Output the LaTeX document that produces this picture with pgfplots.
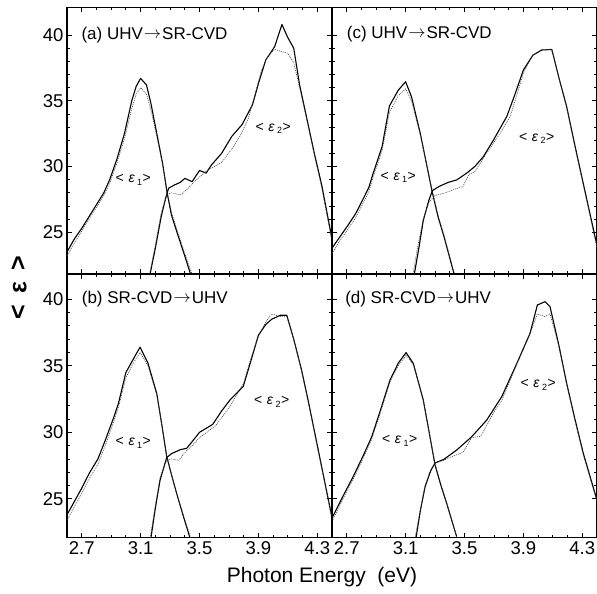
\documentclass[border=0pt]{standalone}
\usepackage{fontspec}
\setmainfont{Liberation Sans}
\usepackage{pgfplots}
\pgfplotsset{compat=1.18}
\usepgfplotslibrary{groupplots}
\usetikzlibrary{calc}
\newcommand{\epslab}[1]{<\,\,\textit{ε}\,\raisebox{-0.35ex}{\fontsize{9}{9}\selectfont #1}\kern0.5pt>}
\newcommand{\arr}{\kern1pt\raisebox{0.1ex}{$\rightarrow$}\kern1pt}
\begin{document}
\begin{tikzpicture}
\pgfplotsset{
  sol/.style={black, line width=1.1pt, line join=round},
  dot/.style={black!75, line width=0.6pt, dash pattern=on 1pt off 1pt},
  toprow/.style={height=266.5pt, ymin=21.83, ymax=42.09},
  botrow/.style={height=263.7pt, ymin=22.08, ymax=41.9},
}
\begin{groupplot}[
  group style={group size=2 by 2, horizontal sep=0pt, vertical sep=0pt,
    xticklabels at=edge bottom, yticklabels at=edge left},
  scale only axis, width=265pt,
  xmin=2.6, xmax=4.4,
  xtick={2.7,3.1,3.5,3.9,4.3}, minor x tick num=3,
  ytick={25,30,35,40}, minor y tick num=4,
  tick align=inside, tick pos=both,
  major tick length=5pt, minor tick length=3pt,
  axis line style={line width=1.1pt},
  every tick/.style={black, line width=0.8pt},
  tick label style={font=\fontsize{18.5}{18.5}\selectfont},
  /pgf/number format/assume math mode=true,
  xticklabel style={/pgf/number format/fixed, /pgf/number format/precision=1, /pgf/number format/fixed zerofill},
]
%%%%%%%% (a)
\nextgroupplot[toprow]
\addplot[sol] coordinates {(2.60,23.5)(2.65,24.5)(2.70,25.3)(2.75,26.2)(2.80,27.1)(2.85,28.0)(2.89,29.0)(2.94,30.6)(2.99,32.5)(3.04,35.0)(3.07,36.1)(3.10,36.7)(3.14,36.2)(3.17,34.8)(3.21,32.5)(3.25,30.2)(3.28,28.0)(3.31,26.3)(3.35,24.9)(3.40,23.2)(3.44,21.8)};
\addplot[dot] coordinates {(2.60,23.2)(2.65,24.2)(2.70,25.1)(2.75,26.0)(2.80,26.9)(2.85,27.8)(2.89,28.7)(2.94,30.3)(2.99,32.1)(3.04,34.4)(3.07,35.5)(3.10,36.0)(3.14,35.5)(3.17,34.3)(3.21,32.3)(3.25,30.1)(3.28,28.1)(3.31,26.5)(3.35,25.1)(3.40,23.4)(3.45,21.8)};
\addplot[sol] coordinates {(3.164,21.8)(3.20,23.8)(3.24,26.2)(3.27,27.6)(3.29,28.35)(3.33,28.6)(3.37,28.8)(3.40,29.1)(3.45,28.85)(3.50,29.7)(3.545,29.5)(3.58,30.1)(3.65,31.0)(3.72,32.3)(3.79,33.2)(3.86,34.7)(3.90,36.3)(3.95,38.1)(4.01,39.1)(4.06,40.8)(4.10,39.8)(4.14,39.0)(4.18,36.2)(4.23,33.6)(4.28,31.0)(4.33,28.6)(4.40,24.5)};
\addplot[dot] coordinates {(3.16,21.8)(3.20,24.0)(3.24,26.5)(3.28,27.9)(3.31,28.0)(3.37,27.85)(3.42,28.3)(3.46,28.8)(3.55,29.7)(3.65,30.3)(3.73,31.5)(3.78,32.4)(3.83,33.6)(3.88,35.6)(3.92,37.3)(3.97,38.5)(4.01,38.9)(4.10,38.6)(4.14,37.9)(4.18,36.0)(4.23,33.5)(4.28,30.9)(4.33,28.4)(4.40,24.3)};
\node[anchor=west, font=\fontsize{17}{17}\selectfont] at (axis cs:2.675,40.0) {(a) UHV\arr SR-CVD};
\node[font=\fontsize{14}{14}\selectfont] at (axis cs:3.05,29.0) {\epslab{1}};
\node[font=\fontsize{14}{14}\selectfont] at (axis cs:4.0,32.9) {\epslab{2}};
%%%%%%%% (c)
\nextgroupplot[toprow]
\addplot[sol] coordinates {(2.60,23.8)(2.65,24.6)(2.70,25.4)(2.76,26.4)(2.81,27.5)(2.85,28.4)(2.88,29.5)(2.94,31.5)(2.99,34.6)(3.05,35.8)(3.10,36.45)(3.14,35.3)(3.20,32.5)(3.24,30.3)(3.28,28.1)(3.32,26.2)(3.36,24.7)(3.43,21.8)};
\addplot[dot] coordinates {(2.60,23.4)(2.65,24.3)(2.70,25.1)(2.76,26.1)(2.81,27.2)(2.85,28.1)(2.88,29.2)(2.94,31.2)(2.99,34.1)(3.05,35.4)(3.10,35.9)(3.14,35.0)(3.20,32.4)(3.24,30.3)(3.28,28.2)(3.32,26.3)(3.36,24.8)(3.43,21.9)};
\addplot[sol] coordinates {(3.159,21.8)(3.19,23.8)(3.22,25.9)(3.257,27.4)(3.282,28.17)(3.33,28.5)(3.39,28.8)(3.447,28.98)(3.515,29.5)(3.57,30.0)(3.628,30.75)(3.696,32.0)(3.787,33.8)(3.84,35.4)(3.90,37.34)(3.965,38.47)(4.025,38.86)(4.093,38.9)(4.14,36.8)(4.194,34.55)(4.25,31.6)(4.307,28.7)(4.40,24.0)};
\addplot[dot] coordinates {(3.15,21.8)(3.18,23.8)(3.22,26.0)(3.26,27.3)(3.30,27.8)(3.37,28.0)(3.44,28.3)(3.49,28.5)(3.53,29.4)(3.57,29.6)(3.65,31.0)(3.74,32.5)(3.81,33.8)(3.86,35.6)(3.90,37.1)(3.965,38.5)(4.025,38.9)(4.093,38.9)(4.14,36.8)(4.194,34.5)(4.25,31.5)(4.307,28.6)(4.40,23.8)};
\node[anchor=west, font=\fontsize{17}{17}\selectfont] at (axis cs:2.677,40.1) {(c) UHV\arr SR-CVD};
\node[font=\fontsize{14}{14}\selectfont] at (axis cs:3.05,29.16) {\epslab{1}};
\node[font=\fontsize{14}{14}\selectfont] at (axis cs:3.99,32.15) {\epslab{2}};
%%%%%%%% (b)
\nextgroupplot[botrow]
\addplot[sol] coordinates {(2.60,23.8)(2.65,24.8)(2.70,25.8)(2.75,26.9)(2.81,28.0)(2.86,29.4)(2.92,31.2)(2.95,32.2)(3.00,34.5)(3.05,35.5)(3.096,36.4)(3.15,35.2)(3.21,32.9)(3.245,30.5)(3.277,28.2)(3.31,26.8)(3.345,25.4)(3.39,23.7)(3.436,22.05)};
\addplot[dot] coordinates {(2.60,23.4)(2.65,24.4)(2.70,25.4)(2.75,26.5)(2.81,27.6)(2.86,29.0)(2.92,30.9)(2.95,31.9)(3.00,34.1)(3.05,35.2)(3.096,36.0)(3.15,35.0)(3.21,32.8)(3.245,30.5)(3.277,28.2)(3.31,26.8)(3.345,25.4)(3.39,23.8)(3.44,22.05)};
\addplot[sol] coordinates {(3.17,22.05)(3.20,24.3)(3.232,26.4)(3.277,28.1)(3.31,28.4)(3.37,28.7)(3.413,28.8)(3.45,29.3)(3.50,30.0)(3.59,30.6)(3.65,31.6)(3.707,32.43)(3.797,33.45)(3.85,35.4)(3.90,37.3)(3.95,38.1)(3.99,38.5)(4.05,38.8)(4.093,38.8)(4.14,37.0)(4.193,34.7)(4.24,32.3)(4.284,29.9)(4.33,27.4)(4.387,24.3)(4.40,23.6)};
\addplot[dot] coordinates {(3.165,22.05)(3.20,24.5)(3.232,26.6)(3.277,27.9)(3.31,28.0)(3.36,27.9)(3.41,28.6)(3.45,29.0)(3.50,29.6)(3.61,30.5)(3.71,32.0)(3.80,33.7)(3.85,35.6)(3.90,37.2)(3.95,38.3)(3.99,38.9)(4.05,38.7)(4.093,38.7)(4.14,37.0)(4.193,34.6)(4.24,32.2)(4.284,29.8)(4.33,27.3)(4.40,23.5)};
\node[anchor=west, font=\fontsize{17}{17}\selectfont] at (axis cs:2.677,40.0) {(b) SR-CVD\arr UHV};
\node[font=\fontsize{14}{14}\selectfont] at (axis cs:3.05,29.2) {\epslab{1}};
\node[font=\fontsize{14}{14}\selectfont] at (axis cs:3.99,32.3) {\epslab{2}};
%%%%%%%% (d)
\nextgroupplot[botrow]
\addplot[sol] coordinates {(2.605,23.66)(2.67,25.1)(2.745,26.7)(2.81,28.2)(2.87,29.67)(2.93,31.7)(2.994,33.93)(3.05,35.2)(3.103,35.99)(3.152,35.19)(3.22,32.43)(3.26,30.0)(3.30,27.54)(3.34,26.0)(3.379,24.66)(3.447,22.15)};
\addplot[dot] coordinates {(2.605,23.4)(2.67,24.9)(2.745,26.5)(2.81,28.0)(2.87,29.5)(2.93,31.5)(2.994,33.8)(3.05,35.0)(3.103,35.8)(3.152,35.1)(3.22,32.4)(3.26,30.0)(3.30,27.6)(3.34,26.1)(3.379,24.7)(3.447,22.15)};
\addplot[sol] coordinates {(3.171,22.1)(3.20,24.1)(3.232,25.9)(3.27,27.1)(3.30,27.7)(3.36,27.97)(3.447,28.67)(3.549,29.67)(3.651,30.92)(3.753,32.68)(3.866,35.44)(3.945,37.44)(3.995,39.57)(4.047,39.82)(4.081,39.44)(4.14,36.6)(4.194,33.68)(4.25,31.0)(4.307,28.42)(4.40,24.9)};
\addplot[dot] coordinates {(3.165,22.1)(3.20,24.2)(3.232,26.0)(3.27,27.2)(3.30,27.7)(3.36,27.9)(3.42,28.2)(3.49,28.5)(3.549,29.6)(3.61,29.7)(3.70,31.5)(3.753,32.4)(3.866,35.4)(3.945,37.4)(3.995,38.9)(4.047,38.7)(4.081,38.9)(4.14,36.5)(4.194,33.6)(4.25,30.9)(4.307,28.3)(4.40,24.8)};
\node[anchor=west, font=\fontsize{17}{17}\selectfont] at (axis cs:2.666,40.0) {(d) SR-CVD\arr UHV};
\node[font=\fontsize{14}{14}\selectfont] at (axis cs:3.06,29.35) {\epslab{1}};
\node[font=\fontsize{14}{14}\selectfont] at (axis cs:4.0,33.56) {\epslab{2}};
\end{groupplot}
\node[anchor=base, font=\fontsize{21}{21}\selectfont] at ($(group c1r2.south east)+(-10pt,-44.3pt)$) {Photon Energy\ \ (eV)};
\node[rotate=90, font=\bfseries\fontsize{25}{25}\selectfont] at ($(group c1r1.south west)+(-48pt,-14pt)$) {<\ \,ε\ \,>};
\pgfresetboundingbox
\path[use as bounding box] ($(group c1r1.north west)+(-67pt,7.5pt)$) rectangle ($(group c2r2.south east)+(0pt,-55.3pt)$);
\end{tikzpicture}
\end{document}
